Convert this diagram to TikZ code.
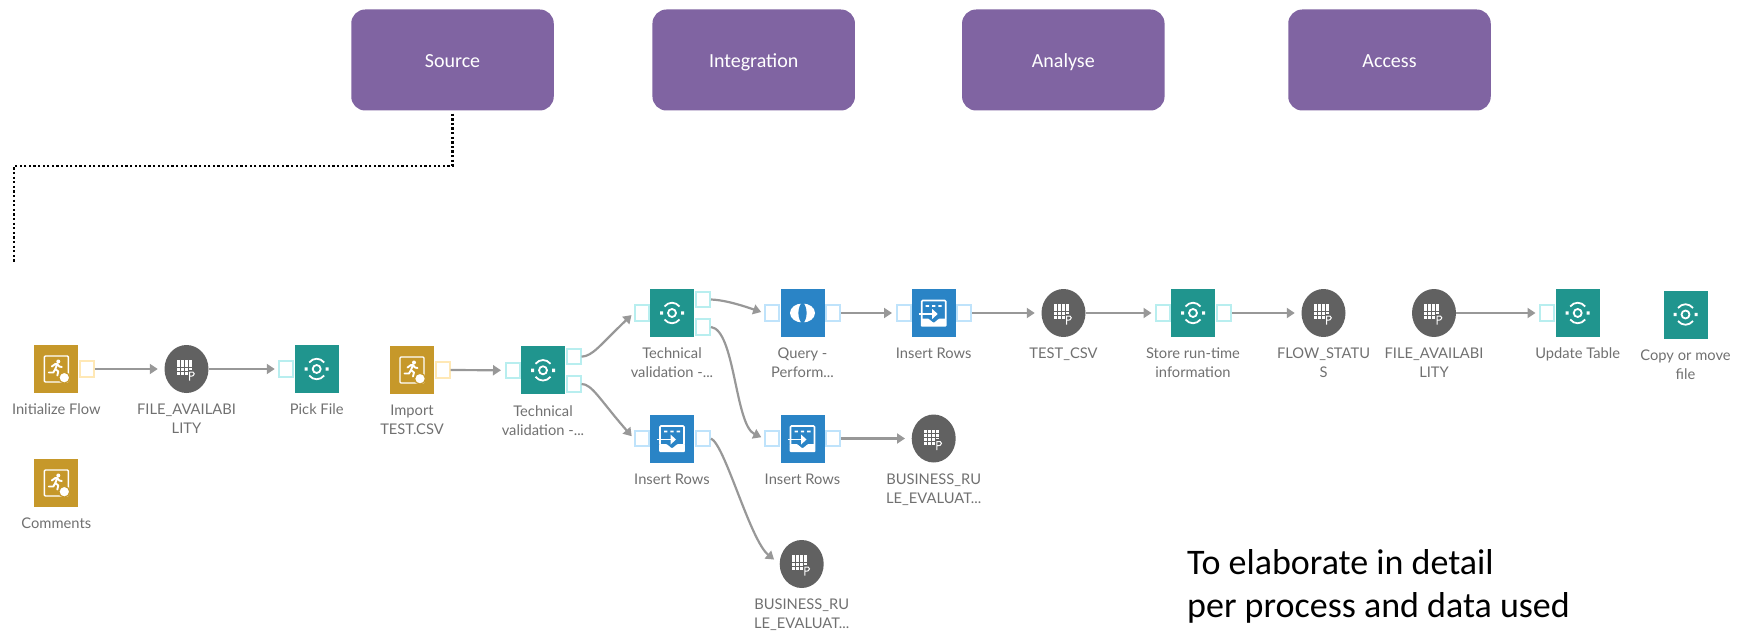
\documentclass[tikz,border=0pt]{standalone}
\usepackage{fontspec}
\setmainfont{Lato}
\newfontfamily\calfont{Carlito}
\usetikzlibrary{arrows.meta,calc,shapes.geometric}
\definecolor{pur}{HTML}{8064A2}
\definecolor{teal1}{HTML}{20958E}
\definecolor{teal2}{HTML}{B8EEEF}
\definecolor{gold1}{HTML}{C6982A}
\definecolor{gold2}{HTML}{FFE8B5}
\definecolor{blue1}{HTML}{2A84C6}
\definecolor{blue2}{HTML}{BFE3FB}
\definecolor{dk}{HTML}{616161}
\definecolor{wire}{HTML}{989898}
\definecolor{txt}{HTML}{707070}
\tikzset{
 head/.style={rectangle,rounded corners=14pt,fill=pur,minimum width=202.5pt,minimum height=101pt,inner sep=0,text=white,text height=20pt,text depth=4pt,font=\calfont\fontsize{20}{24}\selectfont},
 tbox/.style={rectangle,minimum width=44pt,minimum height=48pt,inner sep=0,fill=teal1,draw=none},
 gbox/.style={tbox,fill=gold1},
 bbox/.style={tbox,fill=blue1},
 cbox/.style={ellipse,minimum width=44pt,minimum height=48pt,inner sep=0,fill=dk},
 tport/.style={rectangle,minimum width=14pt,minimum height=15.5pt,inner sep=0,fill=white,draw=teal2,line width=2pt},
 gport/.style={tport,draw=gold2},
 bport/.style={tport,draw=blue2},
 lbl/.style={anchor=north,inner sep=0,align=center,text=txt,font=\fontsize{14.7}{19}\selectfont},
 conn/.style={draw=wire,line width=2.2pt,-{Triangle[length=8pt,width=10pt]},shorten >=1pt},
 note/.style={anchor=base west,inner sep=0,text=black,font=\calfont\fontsize{36}{42}\selectfont},
 eyeicon/.pic={
  \draw[white,line width=1.8pt] (0,0) circle (4);
  \fill[white] (-12,-1.7) rectangle (-9,1.7) (9,-1.7) rectangle (12,1.7);
  \draw[white,line width=1.8pt] (-7.5,-6.5) .. controls (-3.5,-11.5) and (3.5,-11.5) .. (7.5,-6.5);
  \draw[white,line width=1.8pt] (-7.5,6.5) .. controls (-3.5,11.5) and (3.5,11.5) .. (7.5,6.5);
 },
 runicon/.pic={
  \draw[white,line width=1.4pt,rounded corners=1pt] (-12,-13) rectangle (12,13);
  \fill[white,draw=gold1,line width=1.2pt] (8,8.7) circle (5.4);
  \fill[white] (2,-7.5) circle (2);
  \draw[white,line width=1.9pt,line cap=round,line join=round]
   (-4.5,-2.5) -- (-1,-5) -- (1,-5) -- (-1,0) -- (2,2.5) -- (1,6.5)
   (-1,0) -- (-3,3.5) -- (-7.5,3.5)
   (1,-5) -- (3,-2.5) -- (5.5,-2);
 },
 gridicon/.pic={
  \foreach \i in {0,1,2,3}{\foreach \j in {0,1,2,3}{
    \fill[white] ({-10+\i*4},{-8.7+\j*3.9}) rectangle +(3.3,3.2);}}
  \fill[dk] (1.7,0.6) rectangle (10,12);
  \draw[white,line width=1pt] (3.2,2.5) -- (3.2,11.5)
    (3.2,3) .. controls (9,1.6) and (9.6,7.8) .. (3.2,7.2);
 },
 queryicon/.pic={
  \fill[white] (0,0) ellipse (12.5 and 9.5);
  \fill[blue1] (0,-11.5) .. controls (5.5,-5) and (5.5,5) .. (0,11.5) .. controls (-5.5,5) and (-5.5,-5) .. (0,-11.5) -- cycle;
 },
 inserticon/.pic={
  \draw[white,line width=1.6pt,rounded corners=1pt] (-12,6) -- (-12,-12.5) -- (12,-12.5) -- (12,6);
  \fill[white] (-8,-8) rectangle (-4.6,-6.2) (-1.7,-8) rectangle (1.7,-6.2) (4.6,-8) rectangle (8,-6.2);
  \draw[white,line width=1.6pt] (-15,1) -- (0,1);
  \fill[white] (-1.5,-4) -- (4,1) -- (-1.5,6) -- cycle;
  \fill[white,rounded corners=0.8pt] (-12.8,5.5) -- (-5.5,5.5) -- (0,10) -- (5.5,5.5) -- (12.8,5.5) -- (12.8,13.5) -- (-12.8,13.5) -- cycle;
 },
}
\newcommand{\lab}[2]{\node[lbl] (#1L) at ([yshift=-8pt]#1.south) {\strut #2};}
\begin{document}
\begin{tikzpicture}[x=1pt,y=-1pt]
\useasboundingbox (0,0) rectangle (1746,631);
% headers
\node[head] (src) at (452.5,60) {Source};
\node[head] (int) at (753.7,60) {Integration};
\node[head] (ana) at (1063.3,60) {Analyse};
\node[head] (acc) at (1389.5,60) {Access};
\coordinate (dotA) at (14,166);
\coordinate (dotB) at (14,263);
\draw[black,line width=2.3pt,dash pattern=on 2.3pt off 2.3pt] ([yshift=-3pt]src.south) |- (dotA) -- (dotB);
% boxes
\node[gbox] (init) at (56.3,369) {}; \pic at (init) {runicon};
\node[cbox] (fa1) at (186.5,369) {}; \pic at (fa1) {gridicon};
\node[tbox] (pick) at (316.7,369) {}; \pic at (pick) {eyeicon};
\node[gbox] (imp) at (412,370) {}; \pic at (imp) {runicon};
\node[tbox] (tv1) at (543,370.3) {}; \pic at (tv1) {eyeicon};
\node[gbox] (com) at (56.3,483) {}; \pic at (com) {runicon};
\node[tbox] (tv2) at (672,313) {}; \pic at (tv2) {eyeicon};
\node[bbox] (qry) at (802.5,313) {}; \pic at (qry) {queryicon};
\node[bbox] (ins1) at (933.7,313) {}; \pic at (ins1) {inserticon};
\node[cbox] (csv) at (1063.5,313) {}; \pic at (csv) {gridicon};
\node[tbox] (sto) at (1193,313) {}; \pic at (sto) {eyeicon};
\node[cbox] (fst) at (1323.5,313) {}; \pic at (fst) {gridicon};
\node[cbox] (fa2) at (1434,313) {}; \pic at (fa2) {gridicon};
\node[tbox] (upd) at (1577.7,313) {}; \pic at (upd) {eyeicon};
\node[tbox] (cpy) at (1685.5,314.5) {}; \pic at (cpy) {eyeicon};
\node[bbox] (ins2) at (672,438.5) {}; \pic at (ins2) {inserticon};
\node[bbox] (ins3) at (802.5,438.5) {}; \pic at (ins3) {inserticon};
\node[cbox] (br1) at (933.7,438.5) {}; \pic at (br1) {gridicon};
\node[cbox] (br2) at (801.7,564) {}; \pic at (br2) {gridicon};
% ports
\node[gport] (initR) at (86.7,369) {};
\node[tport] (pickL) at (286.3,369) {};
\node[gport] (impR) at (442.5,370) {};
\node[tport] (tv1L) at (512.5,370.3) {};
\node[tport] (tv1A) at (573.6,356.7) {};
\node[tport] (tv1B) at (573.6,384) {};
\node[tport] (tv2L) at (641.7,313) {};
\node[tport] (tv2A) at (703,299.5) {};
\node[tport] (tv2B) at (703,327) {};
\node[bport] (qryL) at (772,313) {};
\node[bport] (qryR) at (833,313) {};
\node[bport] (ins1L) at (903.5,313) {};
\node[bport] (ins1R) at (964,313) {};
\node[tport] (stoL) at (1163,313) {};
\node[tport] (stoR) at (1224,313) {};
\node[tport] (updL) at (1547,313) {};
\node[bport] (ins2L) at (641.7,438.5) {};
\node[bport] (ins2R) at (703,438.5) {};
\node[bport] (ins3L) at (772,438.5) {};
\node[bport] (ins3R) at (833,438.5) {};
% connectors
\draw[conn,shorten >=6.5pt] (initR) -- (fa1);
\draw[conn,shorten >=3.5pt] (fa1) -- (pickL);
\draw[conn,shorten >=3.5pt] (impR) -- (tv1L);
\draw[conn,shorten >=3pt] (tv1A.east) .. controls (593,356) and (600,345) .. (tv2L.west);
\draw[conn,shorten >=3pt] (tv1B.east) .. controls (592,384) and (600,400) .. (ins2L.west);
\draw[conn,shorten >=3pt] (tv2A.east) .. controls (722,300) and (735,303) .. (qryL.west);
\draw[conn,shorten >=3pt] (tv2B.east) .. controls (735,330) and (735,425) .. (ins3L.west);
\draw[conn,shorten >=3.5pt] (qryR) -- (ins1L);
\draw[conn,shorten >=6.5pt] (ins1R) -- (csv);
\draw[conn,shorten >=3.5pt] (csv) -- (stoL);
\draw[conn,shorten >=6.5pt] (stoR) -- (fst);
\draw[conn,shorten >=3.5pt] (fa2) -- (updL);
\draw[conn,shorten >=6.5pt] (ins3R) -- (br1);
\draw[conn,shorten >=7pt] (ins2R.east) .. controls (725,445) and (750,540) .. (br2.west);
% labels
\lab{init}{Initialize Flow}
\lab{fa1}{FILE\_AVAILABI\\LITY}
\lab{pick}{Pick File}
\lab{imp}{Import\\TEST.CSV}
\lab{tv1}{Technical\\validation -...}
\lab{com}{Comments}
\lab{tv2}{Technical\\validation -...}
\lab{qry}{Query -\\Perform...}
\lab{ins1}{Insert Rows}
\lab{csv}{TEST\_CSV}
\lab{sto}{Store run-time\\information}
\lab{fst}{FLOW\_STATU\\S}
\lab{fa2}{FILE\_AVAILABI\\LITY}
\lab{upd}{Update Table}
\lab{cpy}{Copy or move\\file}
\lab{ins2}{Insert Rows}
\lab{ins3}{Insert Rows}
\lab{br1}{BUSINESS\_RU\\LE\_EVALUAT...}
\lab{br2}{BUSINESS\_RU\\LE\_EVALUAT...}
% note
\node[note] (n1) at (1187,574) {To elaborate in detail};
\node[note] (n2) at (1187,617) {per process and data used};
\end{tikzpicture}
\end{document}
